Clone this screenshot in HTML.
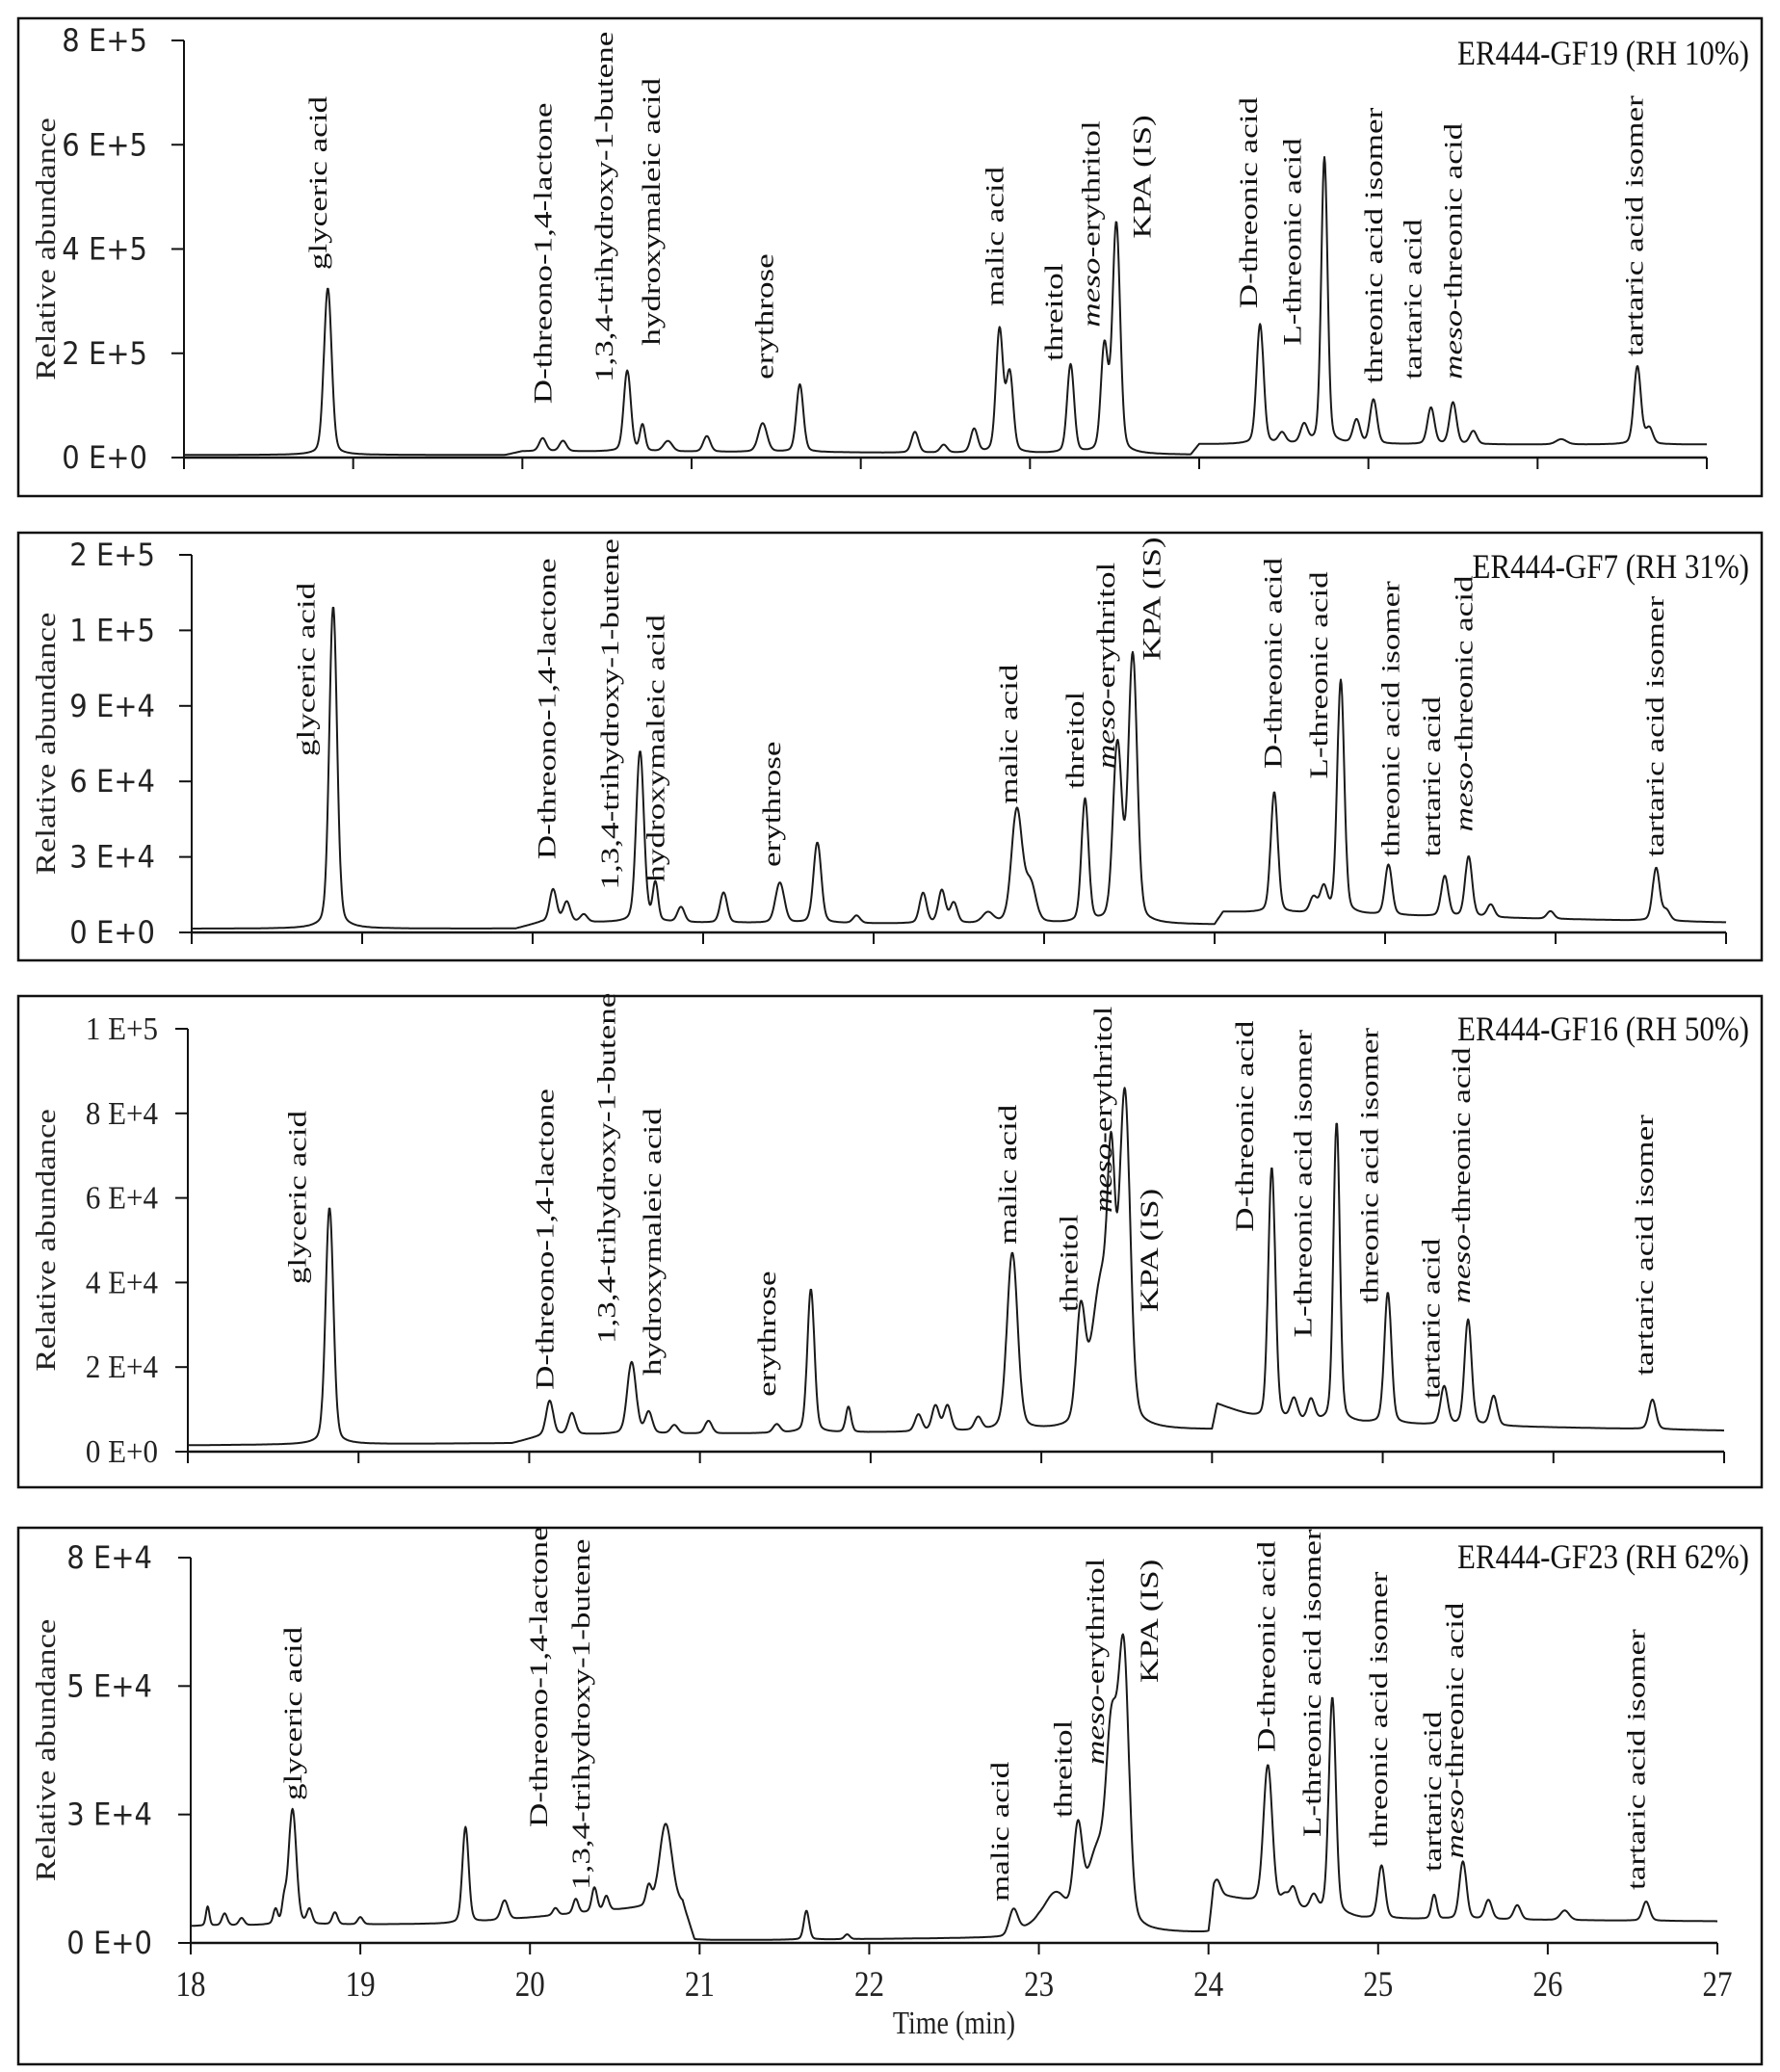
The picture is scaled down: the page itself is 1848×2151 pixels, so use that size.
<!DOCTYPE html>
<html><head><meta charset="utf-8">
<style>
html,body{margin:0;padding:0;background:#fff;}
svg{display:block;}
.tk{font-family:"DejaVu Sans","Liberation Sans",sans-serif;font-size:29px;fill:#222;}
.tks{font-family:"Liberation Serif",serif;font-size:31px;fill:#222;}
.lab{font-family:"Liberation Serif",serif;font-size:26px;fill:#111;}
.ttl{font-family:"Liberation Serif",serif;font-size:31px;fill:#111;}
.yt{font-family:"Liberation Serif",serif;font-size:28px;fill:#222;}
</style></head>
<body>
<svg id="chart" width="1848" height="2151" viewBox="0 0 1848 2151" xmlns="http://www.w3.org/2000/svg"></svg>
<script>
// ---------- data ----------
const xTicks = [18,19,20,21,22,23,24,25,26,27];

const p1TickVals = [0,2,4,6,8];
const p1TickLabels = ['0 E+0','2 E+5','4 E+5','6 E+5','8 E+5'];
const p1BaseT = [18,19.9,20.0,21.8,23.95,24.0,27];
const p1BaseV = [0.05,0.05,0.12,0.1,0.05,0.25,0.25];
const p1PeakT = [18.85,20.12,20.24,20.62,20.71,20.86,21.09,21.42,21.64,22.32,22.49,22.67,22.82,22.88,23.24,23.44,23.51,24.36,24.49,24.62,24.74,24.93,25.03,25.37,25.5,25.62,26.14,26.59,26.66];
const p1PeakH = [3.2,0.25,0.2,1.55,0.5,0.2,0.3,0.55,1.3,0.4,0.15,0.45,2.35,1.5,1.7,2.0,4.4,2.3,0.2,0.35,5.5,0.45,0.85,0.7,0.8,0.25,0.1,1.5,0.3];
const p1PeakW = [0.022,0.02,0.02,0.02,0.015,0.025,0.02,0.025,0.02,0.02,0.02,0.02,0.02,0.02,0.02,0.02,0.022,0.02,0.02,0.02,0.018,0.02,0.02,0.02,0.02,0.02,0.03,0.02,0.02];
const p1LabText = ['glyceric acid','D-threono-1,4-lactone','1,3,4-trihydroxy-1-butene','hydroxymaleic acid','erythrose','malic acid','threitol','*meso*-erythritol','KPA (IS)','D-threonic acid','L-threonic acid','threonic acid isomer','tartaric acid','*meso*-threonic acid','tartaric acid isomer'];
const p1LabT = [18.79,20.12,20.48,20.76,21.43,22.79,23.14,23.36,23.66,24.29,24.55,25.03,25.26,25.5,26.57];
const p1LabV = [3.6,1.03,1.44,2.15,1.5,2.9,1.85,2.5,4.2,2.86,2.15,1.42,1.5,1.5,1.94];

const p2TickVals = [0,3,6,9,12,15];
const p2TickLabels = ['0 E+0','3 E+4','6 E+4','9 E+4','1 E+5','2 E+5'];
const p2BaseT = [18,19.9,20.05,24,24.05,27];
const p2BaseV = [0.15,0.15,0.4,0.3,0.8,0.4];
const p2PeakT = [18.83,20.12,20.2,20.3,20.63,20.72,20.87,21.12,21.45,21.67,21.9,22.29,22.4,22.47,22.67,22.84,22.92,23.24,23.43,23.52,24.35,24.58,24.64,24.74,25.02,25.35,25.49,25.62,25.97,26.59,26.65];
const p2PeakH = [12.8,1.3,0.8,0.3,6.8,1.5,0.6,1.2,1.6,3.2,0.3,1.2,1.3,0.8,0.4,4.5,1.5,4.9,7.0,10.6,4.8,0.6,1.0,9.3,2.0,1.6,2.4,0.5,0.3,2.1,0.4];
const p2PeakW = [0.022,0.02,0.02,0.02,0.022,0.015,0.02,0.02,0.025,0.022,0.02,0.02,0.02,0.02,0.03,0.03,0.03,0.02,0.025,0.025,0.02,0.02,0.02,0.02,0.02,0.02,0.02,0.02,0.02,0.02,0.02];
const p2LabText = ['glyceric acid','D-threono-1,4-lactone','1,3,4-trihydroxy-1-butene','hydroxymaleic acid','erythrose','malic acid','threitol','*meso*-erythritol','KPA (IS)','D-threonic acid','L-threonic acid','threonic acid isomer','tartaric acid','*meso*-threonic acid','tartaric acid isomer'];
const p2LabT = [18.67,20.08,20.45,20.72,21.4,22.79,23.18,23.36,23.63,24.34,24.61,25.03,25.27,25.46,26.58];
const p2LabV = [7.0,2.9,1.7,2.0,2.6,5.1,5.7,6.5,10.8,6.5,6.1,3.0,3.0,4.0,3.0];

const p3TickVals = [0,2,4,6,8,10];
const p3TickLabels = ['0 E+0','2 E+4','4 E+4','6 E+4','8 E+4','1 E+5'];
const p3BaseT = [18,19.9,20.1,24,24.03,24.3,27];
const p3BaseV = [0.15,0.2,0.4,0.5,1.1,0.7,0.5];
const p3PeakT = [18.83,20.12,20.25,20.6,20.7,20.85,21.05,21.45,21.65,21.87,22.28,22.38,22.45,22.63,22.83,23.23,23.36,23.41,23.49,24.35,24.48,24.58,24.73,25.03,25.36,25.5,25.65,26.58];
const p3PeakH = [5.6,0.8,0.5,1.7,0.5,0.2,0.3,0.2,3.4,0.6,0.4,0.6,0.6,0.3,4.2,2.5,3.5,4.0,7.5,6.0,0.5,0.5,7.1,3.1,0.9,2.5,0.7,0.7];
const p3PeakW = [0.022,0.02,0.02,0.025,0.02,0.02,0.02,0.02,0.02,0.015,0.02,0.02,0.02,0.02,0.03,0.025,0.06,0.02,0.03,0.02,0.02,0.02,0.018,0.02,0.02,0.02,0.02,0.02];
const p3LabText = ['glyceric acid','D-threono-1,4-lactone','1,3,4-trihydroxy-1-butene','hydroxymaleic acid','erythrose','malic acid','threitol','*meso*-erythritol','KPA (IS)','D-threonic acid','L-threonic acid isomer','threonic acid isomer','tartaric acid','*meso*-threonic acid','tartaric acid isomer'];
const p3LabT = [18.64,20.09,20.45,20.72,21.39,22.8,23.16,23.36,23.63,24.19,24.53,24.92,25.28,25.46,26.53];
const p3LabV = [3.96,1.46,2.55,1.8,1.3,4.9,3.3,5.65,3.3,5.2,2.7,3.5,1.25,3.5,1.8];

const p4TickVals = [0,8/3,16/3,8];
const p4TickLabels = ['0 E+0','3 E+4','5 E+4','8 E+4'];
const p4BaseT = [18,19.6,20.9,20.97,22.8,23.0,23.65,24.0,24.03,24.3,24.9,27];
const p4BaseV = [0.35,0.4,0.8,0.05,0.1,0.4,0.2,0.2,1.0,0.8,0.5,0.45];
const p4PeakT = [18.1,18.2,18.3,18.5,18.55,18.6,18.7,18.85,19.0,19.62,19.85,20.15,20.27,20.38,20.45,20.7,20.8,21.63,21.87,22.85,23.1,23.23,23.35,23.43,23.5,24.05,24.35,24.45,24.5,24.62,24.73,25.02,25.33,25.5,25.65,25.82,26.1,26.58];
const p4PeakH = [0.4,0.25,0.15,0.3,0.4,2.4,0.3,0.25,0.15,2.0,0.4,0.15,0.3,0.5,0.3,0.4,1.7,0.6,0.1,0.5,0.6,1.8,1.5,3.4,5.6,0.3,2.9,0.2,0.4,0.3,4.5,1.1,0.5,1.2,0.4,0.3,0.2,0.4];
const p4PeakW = [0.01,0.015,0.015,0.012,0.012,0.022,0.015,0.015,0.015,0.018,0.02,0.015,0.015,0.015,0.015,0.015,0.035,0.015,0.015,0.025,0.06,0.025,0.06,0.03,0.03,0.02,0.025,0.02,0.02,0.02,0.02,0.02,0.015,0.02,0.02,0.02,0.025,0.02];
const p4LabText = ['glyceric acid','D-threono-1,4-lactone','1,3,4-trihydroxy-1-butene','malic acid','threitol','*meso*-erythritol','KPA (IS)','D-threonic acid','L-threonic acid isomer','threonic acid isomer','tartaric acid','*meso*-threonic acid','tartaric acid isomer'];
const p4LabT = [18.6,20.05,20.3,22.77,23.14,23.33,23.65,24.34,24.61,25.0,25.32,25.45,26.52];
const p4LabV = [2.96,2.4,1.1,0.86,2.6,3.7,5.4,3.96,2.2,1.98,1.48,1.75,1.1];

// ---------- layout ----------
const NS='http://www.w3.org/2000/svg';
const svg=document.getElementById('chart');
const LSTR=1.35;
const panels=[
 {key:'rh10',box:[19,19,1829,515],x0:191,x1:1772,y0:475,yT:42,ymax:8,tv:p1TickVals,tl:p1TickLabels,tkCls:'tk',tkX:153,title:'ER444-GF19 (RH 10%)',titleY:67,bT:p1BaseT,bV:p1BaseV,pT:p1PeakT,pH:p1PeakH,pW:p1PeakW,lT:p1LabText,lX:p1LabT,lV:p1LabV},
 {key:'rh31',box:[19,553,1829,997],x0:199,x1:1792,y0:968,yT:576,ymax:15,tv:p2TickVals,tl:p2TickLabels,tkCls:'tk',tkX:161,title:'ER444-GF7 (RH 31%)',titleY:600,bT:p2BaseT,bV:p2BaseV,pT:p2PeakT,pH:p2PeakH,pW:p2PeakW,lT:p2LabText,lX:p2LabT,lV:p2LabV},
 {key:'rh50',box:[19,1034,1829,1544],x0:195,x1:1790,y0:1507,yT:1068,ymax:10,tv:p3TickVals,tl:p3TickLabels,tkCls:'tks',tkX:164,title:'ER444-GF16 (RH 50%)',titleY:1080,bT:p3BaseT,bV:p3BaseV,pT:p3PeakT,pH:p3PeakH,pW:p3PeakW,lT:p3LabText,lX:p3LabT,lV:p3LabV},
 {key:'rh62',box:[19,1586,1829,2143],x0:198,x1:1783,y0:2017,yT:1617,ymax:8,tv:p4TickVals,tl:p4TickLabels,tkCls:'tk',tkX:158,title:'ER444-GF23 (RH 62%)',titleY:1628,bT:p4BaseT,bV:p4BaseV,pT:p4PeakT,pH:p4PeakH,pW:p4PeakW,lT:p4LabText,lX:p4LabT,lV:p4LabV,xlabels:true}
];

function mk(tag,attrs,parent){const e=document.createElementNS(NS,tag);for(const k in attrs)e.setAttribute(k,attrs[k]);(parent||svg).appendChild(e);return e;}
function interp(ts,vs,t){if(t<=ts[0])return vs[0];for(let i=1;i<ts.length;i++){if(t<=ts[i]){const f=(t-ts[i-1])/(ts[i]-ts[i-1]);return vs[i-1]+f*(vs[i]-vs[i-1]);}}return vs[vs.length-1];}

panels.forEach(p=>{
  const g=mk('g',{});
  
  
  const X=t=>p.x0+(t-18)/9*(p.x1-p.x0);
  const Y=v=>p.y0-v/p.ymax*(p.y0-p.yT);
  const b=p.box;
  const fr=mk('rect',{x:b[0],y:b[1],width:b[2]-b[0],height:b[3]-b[1],fill:'none',stroke:'#111','stroke-width':2.5},g);
  
  
  const ya=mk('line',{x1:p.x0,y1:p.yT,x2:p.x0,y2:p.y0,stroke:'#111','stroke-width':2},g);
  
  
  p.tv.forEach((v,i)=>{
    mk('line',{x1:p.x0-13,y1:Y(v),x2:p.x0,y2:Y(v),stroke:'#111','stroke-width':2},g);
    const t=mk('text',{x:0,y:0,'text-anchor':'end',class:p.tkCls,transform:`translate(${p.tkX},${Y(v)+11}) scale(1,1.1)`},g);
    t.textContent=p.tl[i];
    
    
  });
  const yc=(p.yT+p.y0)/2;
  const yt=mk('text',{x:0,y:0,'text-anchor':'middle',dy:'0.35em',transform:`translate(47,${yc}) rotate(-90) scale(1.24,1)`,class:'yt'},g);
  yt.textContent='Relative abundance';
  
  
  const xa=mk('line',{x1:p.x0,y1:p.y0,x2:p.x1,y2:p.y0,stroke:'#111','stroke-width':2.5},g);
  
  
  xTicks.forEach(t=>{
    mk('line',{x1:X(t),y1:p.y0,x2:X(t),y2:p.y0+12,stroke:'#111','stroke-width':2},g);
    if(p.xlabels){
      const tx=mk('text',{x:0,y:0,'text-anchor':'middle',class:'tks',transform:`translate(${X(t)},${p.y0+55}) scale(1,1.2)`},g);
      tx.textContent=String(t);
      
      
    }
  });
  if(p.xlabels){
    const xt=mk('text',{x:0,y:0,'text-anchor':'middle',class:'yt',transform:`translate(${(p.x0+p.x1)/2},${p.y0+94}) scale(1,1.2)`},g);
    xt.textContent='Time (min)';
    
    
  }
  const tt=mk('text',{x:0,y:0,'text-anchor':'end',class:'ttl',transform:`translate(1816,${p.titleY}) scale(1,1.15)`},g);
  tt.textContent=p.title;
  
  
  let d='';
  for(let t=18;t<=27.0001;t+=0.004){
    let v=interp(p.bT,p.bV,t);
    for(let i=0;i<p.pT.length;i++){
      const dd=t-p.pT[i],w=p.pW[i];
      if(Math.abs(dd)>1.5)continue;
      v+=p.pH[i]*(0.88*Math.exp(-0.5*dd*dd/(w*w))+0.12/(1+(dd/(2*w))*(dd/(2*w))));
    }
    d+=(d?'L':'M')+X(t).toFixed(1)+','+Y(v).toFixed(1);
  }
  const tr=mk('path',{d:d,fill:'none',stroke:'#1a1a1a','stroke-width':2,'stroke-linejoin':'round'},g);
  
  
  p.lT.forEach((txt,i)=>{
    const x=X(p.lX[i]),y=Y(p.lV[i]);
    const te=mk('text',{x:0,y:0,dy:'0.35em',transform:`translate(${x},${y}) rotate(-90) scale(${LSTR},1)`,class:'lab'},g);
    const parts=txt.split('*');
    parts.forEach((s,j)=>{ if(!s)return; const ts=mk('tspan',j%2===1?{'font-style':'italic'}:{},te); ts.textContent=s; });
    
    
  });
});
</script>
</body></html>
